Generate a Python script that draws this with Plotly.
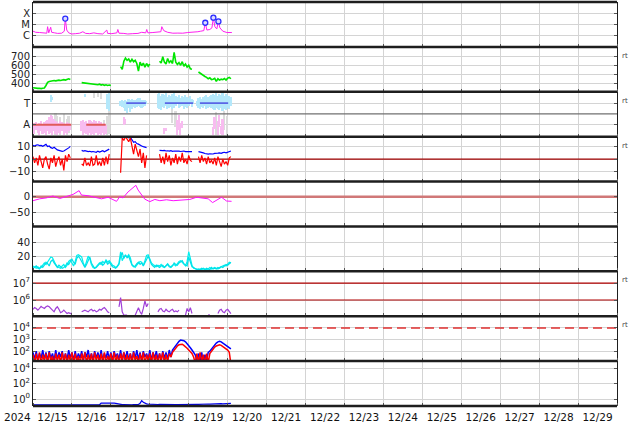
import pandas as pd
import plotly.graph_objects as go
from plotly.subplots import make_subplots

N = None
START = "2024-12-15 00:00"
END = "2024-12-30 00:00"
HOURS = list(range(123))  # hourly samples from 12/15 00:00

# ---------------- panel 1: X-ray flux (log10 W/m2) ----------------
XRAY_H = [0, 1.7, 4, 6.6, 8.5, 9, 9.7, 10.9, 11.5, 13.4, 15.2, 17.7, 19.3, 19.9, 20.8,
          22, 23.9, 26.3, 28.8, 30.7, 32.5, 35, 37.5, 40, 43, 45.5, 46, 48.6, 51.7, 52.3,
          53, 56, 58.4, 61.5, 64.7, 67, 69.5, 70.1, 70.8, 73.9, 76.3, 78.8, 79.4, 80.6, 83,
          86.2, 89.3, 92.3, 95.4, 98.5, 101.6, 103.4, 105.3, 106.2, 107.2, 109, 110.3, 111.2,
          112.1, 113.3, 114.3, 115.2, 117, 119.5, 122.6]
XRAY_LOG = [-5.6, -5.7, -5.72, -5.75, -5.78, -5.2, -5.75, -5.25, -5.7, -5.75, -5.8, -5.78, -5.6, -4.48, -5.5,
            -5.75, -5.85, -5.82, -5.78, -5.65, -5.8, -5.82, -5.75, -5.82, -5.85, -5.5, -5.8, -5.82, -5.75, -5.45,
            -5.78, -5.8, -5.85, -5.82, -5.8, -5.7, -5.75, -5.45, -5.75, -5.72, -5.7, -5.65, -5.2, -5.55, -5.7,
            -5.78, -5.77, -5.78, -5.72, -5.7, -5.65, -5.6, -5.55, -4.85, -5.5, -5.45, -5.3, -4.4,
            -5.2, -5.4, -4.73, -5.3, -5.6, -5.72, -5.72]
FLARE_H = [19.9, 106.2, 111.2, 114.3]
FLARE_LOG = [-4.48, -4.85, -4.4, -4.73]
XRAY_TICKS = [1e-6, 1e-5, 1e-4]
XRAY_LABELS = ["C", "M", "X"]

# ---------------- panel 2: solar wind speed (km/s) ----------------
SPEED = [355, 350, 352, 348, 350, 345, 350, 352, 380, 415,
         425, 430, 428, 435, 432, 438, 440, 436, 442, 445,
         440, 450, 455, 448, N, N, N, N, N, N,
         412, 410, 408, 405, 400, 402, 398, 395, 400, 392,
         388, 395, 385, 390, 382, 388, 380, 385, 380, N,
         N, N, N, N, 590, 560, 650, 685, 660, 675,
         640, 672, 645, 660, 625, 540, 640, 600, 630, 585,
         625, 595, 620, N, N, N, N, N, 650, 630,
         700, 640, 620, 680, 635, 655, 625, 750, 640, 615,
         635, 605, 645, 595, 620, 585, 605, 565, 560, N,
         N, N, 530, 515, 500, 490, 480, 470, 455, 465,
         445, 450, 460, 425, 455, 440, 450, 445, 458, 440,
         462, 470, 455]
SPEED_TICKS = [400, 500, 600, 700]

# ---------------- panel 3: IMF sector (T / A) ----------------
T_H = [11, 12, 32, 46, 47] + list(range(54, 71)) + list(range(77, 100)) + list(range(101, 123))
T_LO = [1.1, 1.3, 1.6, 0.5, 0.3,
        0.8, 0.7, 0.6, 0.3, 0.1, 0.6, 0.2, 0.5, 0.7, 0.6, 0.7, 0.8, 0.7, 0.6, 0.7, 0.8, 0.9,
        0.6, 0.5, 0.4, 0.7, 0.6, 0.8, 0.5, 0.6, 0.7, 0.5, 0.6, 0.8, 0.9, 0.6, 0.7, 0.8, 0.5, 0.7, 0.6, 0.8, 0.9, 0.7, 0.9,
        0.8, 0.6, 0.5, 0.7, 0.6, 0.8, 0.5, 0.6, 0.7, 0.6, 0.5, 0.4, 0.6, 0.5, 0.4, 0.6, 0.3, 0.5, 0.4, 0.6, 0.5, 0.8]
T_HI = [1.8, 1.6, 1.9, 1.9, 1.95,
        1.2, 1.3, 1.25, 1.35, 1.2, 1.4, 1.3, 1.4, 1.3, 1.35, 1.4, 1.5, 1.45, 1.3, 1.35, 1.3, 1.2,
        1.9, 1.95, 1.7, 1.9, 1.8, 1.95, 1.6, 1.8, 1.7, 1.9, 1.95, 1.7, 1.6, 1.8, 1.5, 1.7, 1.6, 1.8, 1.6, 1.5, 1.7, 1.4, 1.3,
        1.2, 1.5, 1.6, 1.4, 1.6, 1.7, 1.8, 1.6, 1.7, 1.8, 1.9, 1.8, 1.95, 1.7, 1.9, 1.8, 1.95, 1.7, 1.9, 1.8, 1.7, 1.6]
A_H = list(range(0, 24)) + list(range(30, 46)) + [56, 57, 81, 82, 89, 90, 91, 92, 111, 112, 114, 115, 116, 117]
A_LO = [-1.6, -1.8, -1.5, -1.7, -1.9, -1.6, -1.8, -1.7, -1.9, -1.6, -1.8, -1.7, -1.9, -1.6, -1.8, -1.9, -1.7, -1.8,
        -1.6, -1.9, -1.7, -1.8, -1.6, -1.5,
        -1.6, -1.9, -1.7, -1.8, -1.9, -1.7, -1.9, -1.8, -1.9, -1.7, -1.9, -1.8, -1.9, -1.7, -1.9, -1.8,
        -1.0, -0.9, -1.8, -1.6, -1.9, -1.5, -1.9, -1.3, -1.9, -1.4, -1.9, -1.2, -1.8, -1.9]
A_HI = [-0.9, -0.8, -0.7, -0.9, -0.8, -0.6, -0.9, -0.7, -0.6, -0.5, -0.3, -0.1, -0.2, -0.4, -0.6, -0.7, -0.8, -0.6,
        -0.7, -0.8, -0.9, -0.7, -0.8, -0.9,
        -0.6, -0.5, -0.7, -0.6, -0.8, -0.5, -0.6, -0.7, -0.5, -0.6, -0.8, -0.6, -0.7, -0.9, -0.8, -1.0,
        -0.3, -0.4, -1.3, -1.3, -0.5, -0.1, -0.8, -0.6, -1.2, -0.3, -0.6, -0.1, -1.1, -0.4]
G_H = [14, 15, 17, 19, 21, 22, 38, 40, 42, 44, 46, 47, 86, 88, 113, 118, 120]
G_LO = [-1.9, -1.2, -1.9, -1.5, -1.9, -1.7, 1.5, 1.6, 1.4, -1.9, -1.9, -1.8, -0.8, -1.2, -1.9, -1.5, -1.9]
G_HI = [0.1, -0.2, -0.3, 0.0, -0.4, -0.2, 2.1, 2.1, 2.1, -0.5, -0.2, 1.0, 0.5, 0.3, 0.2, 0.3, -0.2]
AWAY_SEGS = [(0, 23.6), (32.8, 44.8)]
TOWARD_SEGS = [(57.5, 69.6), (81.3, 98.7), (102.9, 120.3)]

# ---------------- panel 4: Bt / Bz (nT) ----------------
BT = [11, 10.5, 11.2, 11.5, 10.8, 11, 10.3, 10.8, 11.8, 10,
      10.5, 9.2, 8.6, 9.5, 8.2, 7.4, 7, 6.6, 6.2, 6.5,
      7.2, 8, 9, 10.2, N, N, N, N, N, N,
      7, 6.5, 6.8, 6.2, 6, 6.3, 5.8, 6.1, 5.9, 5.5,
      6.4, 5.7, 6.2, 6.8, 5.9, 6.6, 7.5, 8, N, N,
      N, N, N, N, 17, 18, 18, 17.5, 18, 17,
      17.5, 15, 13.5, 14, 12.5, 12, 11, 10.5, 10, 9.5,
      9.2, N, N, N, N, N, N, N, 7, 6.6,
      6.8, 7, 6.5, 6.7, 6.4, 6.8, 6.2, 6.5, 6.6, 6.3,
      6.4, 6.1, 6.3, 6.5, 6, 6.2, 5.9, 6.1, 6, N,
      N, N, 6, 5.8, 5.3, 5, 4.5, 4.2, 4, 4.3,
      3.9, 4.1, 4.6, 4.4, 4.8, 5, 4.6, 5.2, 5.5, 5.1,
      5.6, 6, 6.5]
BZ = [2, -3, 1, -5, 3, -2, -7, 0, 2, -4,
      -8, 1, -3, 3, -6, -1, 2, -5, 0, -9,
      3, -2, 4, 1, N, N, N, N, N, N,
      -4, -5, 1, -5, -3, -5.5, 2, -5, -4, 3,
      -5, -2, -5.5, 1, -5, 2, -4, 4, N, N,
      N, N, N, N, -11, 17, 15, 18, 16, 14,
      17, 9, 4, 12, 6, 2, 8, -3, 5, -7,
      3, N, N, N, N, N, N, N, 4, -3,
      2, -4, 5, -2, 3, -5, 1, -3, 4, -4,
      2, -2, 5, -3, 0, -4, 3, -1, -2, N,
      N, N, 2, -3, 3, -2, 1, -4, 2, -3,
      -1, -4, 1, -5, 2, -3, -6, 0, -4, -2,
      -5, 1, 2]
B_TICKS = [-10, 0, 10]
B_LABELS = ["\u221210", "0", "10"]

# ---------------- panel 5: Dst (nT) ----------------
DST_H = [0, 4.1, 8.3, 12.3, 16.5, 20.6, 24.7, 28.4, 29.9, 33.9, 38.1, 42.2, 46.3, 48.4, 51.5, 53.5,
         55.5, 58.6, 63.4, 64.8, 68.9, 72, 75.1, 78.2, 82.3, 86.4, 90.5, 96.7, 100.8, 104.9, 108,
         110.7, 113.2, 116.2, 119.3, 122.4]
DST = [-13, -7, -4, 2, -6, 0, 7, 19, 5, 3, -2, -7, -2, -7, -15, 0,
       -4, 15, 36, 21, -8, -16, -9, -13, -10, -13, -12, -9, -2, -6, -7,
       -19, -10, -2, -14, -15]
DST_TICKS = [-50, 0]
DST_LABELS = ["\u221250", "0"]

# ---------------- panel 6: two cyan indices ----------------
CYAN1 = [8, 6, 5, 7, 5, 6, 9, 12, 10, 14,
         17, 20, 19, 14, 10, 7, 6, 5, 8, 10,
         6, 9, 14, 16, 12, 8, 14, 22, 23, 22,
         20, 12, 7, 14, 21, 18, 10, 6, 5, 7,
         9, 12, 10, 14, 12, 16, 13, 15, 12, 9,
         8, 6, 7, 12, 27, 15, 20, 22, 20, 23,
         19, 10, 8, 6, 9, 12, 14, 13, 9, 15,
         22, 23, 18, 12, 10, 8, 7, 9, 8, 10,
         7, 6, 9, 11, 8, 7, 9, 10, 8, 11,
         14, 15, 13, 10, 8, 14, 27, 18, 9, 5,
         4, 4, 3, 4, 3, 5, 4, 3, 4, 6,
         4, 5, 6, 5, 4, 6, 7, 8, 9, 8,
         10, 13, 12]
CYAN2 = [5, 7, 8, 5, 4, 8, 6, 9, 13, 11,
         8, 14, 16, 12, 8, 6, 9, 7, 5, 6,
         8, 12, 10, 14, 17, 13, 10, 18, 21, 18,
         14, 9, 6, 10, 16, 20, 12, 8, 5, 6,
         8, 10, 13, 9, 11, 15, 10, 13, 9, 7,
         6, 5, 8, 10, 21, 26, 18, 23, 19, 21,
         15, 9, 7, 8, 11, 13, 10, 12, 8, 12,
         18, 21, 16, 10, 8, 6, 9, 7, 6, 8,
         9, 6, 8, 10, 7, 6, 8, 12, 10, 9,
         12, 13, 15, 11, 9, 8, 20, 14, 7, 6,
         5, 3, 4, 3, 5, 4, 3, 5, 4, 3,
         6, 4, 5, 4, 6, 5, 7, 6, 8, 10,
         9, 11, 13]
CYAN_TICKS = [20, 40]

# ---------------- panel 7: electron flux (log10) ----------------
ELEC_LOG = [5.45, 5.55, 5.5, 5.4, 5.5, 5.62, 5.55, 5.5, 5.6, 5.65,
            5.6, 5.5, 5.35, 5.3, 5.5, 5.6, 5.45, 5.25, 5.3, 5.4,
            5.3, 5.2, 5.25, 5.2, 5.22, N, N, N, N, N,
            5.3, 5.35, 5.4, 5.35, 5.3, 5.4, 5.45, 5.35, 5.4, 5.3,
            5.35, 5.45, 5.4, 5.5, 5.55, 5.45, 5.3, 5.25, N, N,
            N, N, N, 5.6, 6.15, 5.3, 5.1, 5.1, 5.1, N,
            N, N, N, 5.1, 5.35, 5.55, 5.3, 5.15, 5.5, 5.95,
            5.6, 5.8, N, N, N, N, N, 5.3, 5.45, 5.5,
            5.35, 5.3, 5.45, 5.35, 5.3, 5.4, 5.45, 5.3, 5.35, 5.3,
            5.4, N, N, N, 5.1, 5.5, 5.3, 5.55, 5.2, N,
            N, N, N, N, N, N, N, N, 5.12, 5.12,
            N, N, N, N, 5.2, 5.4, 5.45, 5.3, 5.25, 5.4,
            5.45, 5.35, 5.2]
ELEC_ALERTS = [1e6, 1e7]
ELEC_TICKS = [1e6, 1e7]
ELEC_LABELS = ["10<sup>6</sup>", "10<sup>7</sup>"]

# ---------------- panel 8: proton flux (log10) ----------------
PROT_BLUE_LOG = [1.9, 1.3, 2.0, 1.2, 1.8, 1.4, 2.1, 1.3, 1.9, 1.2,
                 2.0, 1.4, 1.8, 1.2, 2.1, 1.3, 1.9, 1.5, 2.0, 1.2,
                 1.8, 1.3, 2.1, 1.4, 1.9, 1.2, 2.0, 1.3, 1.8, 1.4,
                 2.0, 1.2, 1.9, 1.5, 2.1, 1.3, 1.8, 1.2, 2.0, 1.4,
                 1.9, 1.3, 2.1, 1.2, 1.8, 1.4, 2.0, 1.3, 1.9, 1.2,
                 2.0, 1.5, 1.8, 1.3, 2.1, 1.2, 1.9, 1.4, 2.0, 1.3,
                 1.8, 1.2, 2.0, 1.4, 2.1, 1.3, 1.9, 1.2, 2.0, 1.5,
                 1.8, 1.3, 2.1, 1.2, 1.9, 1.4, 2.0, 1.3, 1.8, 1.2,
                 2.0, 1.4, 1.9, 1.3, 2.1, 1.5,
                 2.1, 2.3, 2.5, 2.7, 2.85, 2.95, 2.95, 2.9, 2.8, 2.65, 2.5, 2.3, 2.1, 1.9, 1.7,
                 1.2, 1.8, 1.1, 1.9, 1.0, 1.7, 1.2, 1.9,
                 2.0, 2.2, 2.4, 2.55, 2.7, 2.8, 2.85, 2.8, 2.7, 2.6, 2.5, 2.4, 2.3, 2.2]
PROT_RED_LOG = [1.7, 1.0, 1.8, 1.1, 1.9, 0.9, 1.7, 1.2, 1.8, 1.0,
                1.9, 1.1, 1.6, 0.9, 1.8, 1.2, 1.7, 1.0, 1.9, 1.1,
                1.8, 0.9, 1.7, 1.2, 1.9, 1.0, 1.8, 1.1, 1.6, 0.9,
                1.8, 1.2, 1.9, 1.0, 1.7, 1.1, 1.8, 0.9, 1.9, 1.2,
                1.7, 1.0, 1.8, 1.1, 1.9, 0.9, 1.6, 1.2, 1.8, 1.0,
                1.9, 1.1, 1.7, 0.9, 1.8, 1.2, 1.9, 1.0, 1.7, 1.1,
                1.8, 0.9, 1.9, 1.2, 1.6, 1.0, 1.8, 1.1, 1.9, 0.9,
                1.7, 1.2, 1.8, 1.0, 1.9, 1.1, 1.7, 0.9, 1.8, 1.2,
                1.9, 1.0, 1.7, 1.1, 1.8, 1.5,
                1.9, 2.1, 2.3, 2.45, 2.55, 2.6, 2.6, 2.5, 2.4, 2.25, 2.1, 1.95, 1.8, 1.5, 1.0,
                1.8, 1.0, 1.9, 1.1, 1.7, 0.9, 1.8, 1.0,
                1.8, 2.0, 2.2, 2.35, 2.45, 2.5, 2.55, 2.5, 2.4, 2.3, 2.2, 2.1, 1.9, 0.9]
PROT_ALERT = 1e4
PROT_TICKS = [1e2, 1e3, 1e4]
PROT_LABELS = ["10<sup>2</sup>", "10<sup>3</sup>", "10<sup>4</sup>"]

# ---------------- panel 9: bottom flux (log10) ----------------
LOW_LOG = [-0.75, -0.74, -0.76, -0.75, -0.74, -0.75, -0.76, -0.75, -0.74, -0.75,
           -0.76, -0.75, -0.74, -0.75, -0.76, -0.75, -0.74, -0.75, -0.76, -0.75,
           -0.74, -0.75, -0.76, -0.75, -0.74, -0.75, -0.76, -0.75, -0.74, -0.75,
           -0.76, -0.75, -0.74, -0.75, -0.76, -0.75, -0.74, -0.75, -0.76, -0.75,
           -0.75, -0.74, -0.52, -0.5, -0.53, -0.51, -0.5, -0.52, -0.53, -0.5,
           -0.52, -0.55, -0.6, -0.68, -0.72, -0.73, -0.72, -0.74, -0.73, -0.72,
           -0.73, -0.74, -0.72, -0.73, -0.72, -0.7, -0.55, -0.2, -0.4, -0.55,
           -0.62, -0.66, -0.68, -0.7, -0.69, -0.7, -0.71, -0.7, -0.69, -0.7,
           -0.71, -0.7, -0.69, -0.7, -0.71, -0.7, -0.69, -0.7, -0.71, -0.7,
           -0.69, -0.7, -0.71, -0.7, -0.69, -0.7, -0.68, -0.69, -0.7, -0.68,
           -0.68, -0.67, -0.68, -0.66, -0.67, -0.65, -0.66, -0.65, -0.64, -0.65,
           -0.63, -0.64, -0.62, -0.63, -0.61, -0.62, -0.6, -0.61, -0.59, -0.6,
           -0.58, -0.57, -0.56]
LOW_TICKS = [1, 1e2, 1e4]
LOW_LABELS = ["10<sup>0</sup>", "10<sup>2</sup>", "10<sup>4</sup>"]

RT_ROWS = [2, 3, 4, 7, 8]
NROWS = 9

# ---------------- helpers ----------------
T0 = pd.Timestamp(START)


def times(hours):
    return [T0 + pd.Timedelta(hours=float(h)) for h in hours]


def pow10(vals):
    return [None if v is None else 10 ** v for v in vals]


T_ALL = times(HOURS)
FULL = [pd.Timestamp(START), pd.Timestamp(END)]

fig = make_subplots(rows=NROWS, cols=1, shared_xaxes=True, vertical_spacing=0)


def line(x, y, color, width, row, dash=None):
    fig.add_trace(go.Scatter(x=x, y=y, mode="lines", connectgaps=False,
                             line=dict(color=color, width=width, dash=dash),
                             hoverinfo="skip"), row=row, col=1)


def spans(hours, lo, hi, color, row):
    fig.add_trace(go.Bar(x=times(hours), base=lo, y=[h - l for l, h in zip(lo, hi)],
                         width=3600000, marker=dict(color=color, line=dict(width=0)),
                         hoverinfo="skip"), row=row, col=1)


# row 1
line(times(XRAY_H), pow10(XRAY_LOG), "#ff20f0", 1, 1)
fig.add_trace(go.Scatter(x=times(FLARE_H), y=pow10(FLARE_LOG), mode="markers",
                         marker=dict(symbol="circle", size=5, color="#dcdcff",
                                     line=dict(color="#2a2aff", width=1.3)),
                         hoverinfo="skip"), row=1, col=1)
# row 2
line(T_ALL, SPEED, "#00e600", 1.6, 2)
# row 3
spans(G_H, G_LO, G_HI, "#dcdcdc", 3)
spans(T_H, T_LO, T_HI, "#b4e8fb", 3)
spans(A_H, A_LO, A_HI, "#f8bcf0", 3)
line(FULL, [0, 0], "#707070", 1.2, 3)
for s, e in AWAY_SEGS:
    line(times([s, e]), [-1, -1], "#e05a5a", 1.8, 3)
for s, e in TOWARD_SEGS:
    line(times([s, e]), [1, 1], "#5a66e6", 1.8, 3)
# row 4
line(FULL, [0, 0], "#a00000", 1.2, 4)
line(T_ALL, BT, "#0000ff", 1.2, 4)
line(T_ALL, BZ, "#ff0000", 1.2, 4)
# row 5
line(FULL, [0, 0], "#d07878", 2.5, 5)
line(times(DST_H), DST, "#ff10ff", 1, 5)
# row 6
line(T_ALL, CYAN1, "#00f0f0", 1.2, 6)
line(T_ALL, CYAN2, "#00e0e8", 1.2, 6)
# row 7
for v in ELEC_ALERTS:
    line(FULL, [v, v], "#b00000", 1.2, 7)
line(T_ALL, pow10(ELEC_LOG), "#a040d8", 1.2, 7)
# row 8
line(FULL, [PROT_ALERT, PROT_ALERT], "#e03030", 1.5, 8, dash="9px,5px")
line(T_ALL, pow10(PROT_BLUE_LOG), "#0000ff", 1.5, 8)
line(T_ALL, pow10(PROT_RED_LOG), "#ff0000", 1.5, 8)
# row 9
line(T_ALL, pow10(LOW_LOG), "#0000ee", 1.2, 9)

fig.update_layout(width=634, height=424, margin=dict(l=33, r=17, t=2, b=18),
                  paper_bgcolor="white", plot_bgcolor="white", showlegend=False,
                  barmode="overlay", bargap=0,
                  font=dict(family="DejaVu Sans", size=10, color="#222"))

fig.update_xaxes(type="date", range=FULL, tick0=START, dtick=86400000,
                 tickformat="%m/%d", ticklabelmode="period", ticklabelstandoff=3,
                 showgrid=True, gridcolor="#d4d4d4", gridwidth=1,
                 showline=False, ticks="inside", ticklen=3, tickcolor="#555", zeroline=False,
                 tickfont=dict(family="DejaVu Sans", size=10.5, color="#111"),
                 fixedrange=True)
fig.update_yaxes(showgrid=True, gridcolor="#d4d4d4", gridwidth=1,
                 showline=True, linecolor="#1e1e1e", linewidth=1, mirror="allticks",
                 ticks="inside", ticklen=3, tickcolor="#555", zeroline=False,
                 tickfont=dict(family="DejaVu Sans", size=10, color="#222"),
                 fixedrange=True, tickmode="array")

fig.update_yaxes(type="log", range=[-7, -3], tickvals=XRAY_TICKS, ticktext=XRAY_LABELS, row=1, col=1)
fig.update_yaxes(range=[310, 810], tickvals=SPEED_TICKS, ticktext=[str(v) for v in SPEED_TICKS], row=2, col=1)
fig.update_yaxes(range=[-2.1, 2.05], tickvals=[-1, 1], ticktext=["A", "T"], row=3, col=1)
fig.update_yaxes(range=[-18, 18], tickvals=B_TICKS, ticktext=B_LABELS, row=4, col=1)
fig.update_yaxes(range=[-95, 48], tickvals=DST_TICKS, ticktext=DST_LABELS, row=5, col=1)
fig.update_yaxes(range=[0.8, 60.8], tickvals=CYAN_TICKS, ticktext=[str(v) for v in CYAN_TICKS], row=6, col=1)
fig.update_yaxes(type="log", range=[5.04, 7.7], tickvals=ELEC_TICKS, ticktext=ELEC_LABELS, row=7, col=1)
fig.update_yaxes(type="log", range=[1.15, 5.0], tickvals=PROT_TICKS, ticktext=PROT_LABELS, row=8, col=1)
fig.update_yaxes(type="log", range=[-0.9, 5.0], tickvals=LOW_TICKS, ticktext=LOW_LABELS, row=9, col=1)

# thick separators between panels
for k in range(NROWS + 1):
    fig.add_shape(type="line", xref="paper", yref="paper", x0=0, x1=1, y0=k / NROWS, y1=k / NROWS,
                  line=dict(color="#1e1e1e", width=2.5), layer="above")

# small "rt" marks to the right of some panels
for r in RT_ROWS:
    dom = fig.layout["yaxis" + ("" if r == 1 else str(r))].domain
    fig.add_annotation(text="rt", xref="paper", yref="paper", x=1.0, xshift=3, xanchor="left",
                       y=dom[1], yshift=-9, yanchor="middle", showarrow=False,
                       font=dict(size=7, color="#444"))

fig.add_annotation(text="2024", xref="paper", yref="paper", x=-0.026, y=0, yshift=-11,
                   xanchor="center", yanchor="middle", showarrow=False,
                   font=dict(family="DejaVu Sans", size=10.5, color="#111"))

# remove the browser's default page margin so the figure sits at the window origin
fig.write_html("out.html", config={"displayModeBar": False},
               post_script="document.body.style.margin='0px';")
